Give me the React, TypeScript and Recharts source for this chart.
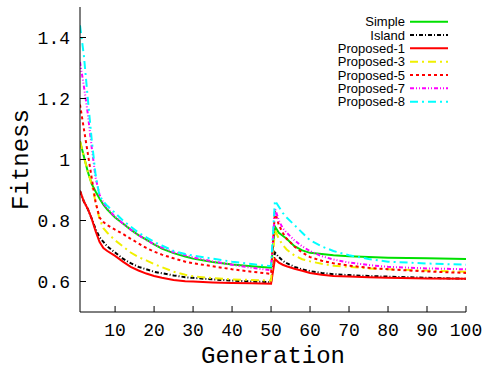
import React from 'react';
import { Label, Legend, Line, LineChart, XAxis, YAxis } from 'recharts';

const GENS = [1, 2, 3, 4, 5, 6, 7, 8, 10, 12, 14, 16, 18, 20, 22, 25, 28, 30, 35, 40, 45, 50, 51, 52, 53, 54, 56, 58, 60, 63, 66, 70, 75, 80, 90, 100];

const SIMPLE = [1.06, 1.01, 0.96, 0.92, 0.895, 0.872, 0.852, 0.836, 0.81, 0.79, 0.77, 0.752, 0.737, 0.722, 0.708, 0.693, 0.682, 0.675, 0.664, 0.656, 0.65, 0.645, 0.78, 0.76, 0.75, 0.74, 0.716, 0.702, 0.694, 0.69, 0.686, 0.683, 0.68, 0.678, 0.676, 0.674];
const ISLAND = [0.897, 0.862, 0.838, 0.806, 0.772, 0.745, 0.73, 0.715, 0.695, 0.675, 0.66, 0.648, 0.64, 0.632, 0.627, 0.62, 0.614, 0.612, 0.607, 0.603, 0.6, 0.598, 0.695, 0.68, 0.668, 0.66, 0.648, 0.64, 0.634, 0.628, 0.624, 0.621, 0.618, 0.616, 0.612, 0.609];
const PROPOSED_1 = [0.897, 0.862, 0.838, 0.806, 0.765, 0.73, 0.71, 0.7, 0.684, 0.665, 0.648, 0.636, 0.626, 0.618, 0.612, 0.605, 0.601, 0.6, 0.597, 0.595, 0.594, 0.593, 0.674, 0.662, 0.655, 0.65, 0.642, 0.635, 0.628, 0.622, 0.618, 0.616, 0.614, 0.612, 0.61, 0.609];
const PROPOSED_3 = [1.06, 1.01, 0.96, 0.92, 0.86, 0.805, 0.775, 0.76, 0.735, 0.715, 0.695, 0.68, 0.669, 0.657, 0.647, 0.632, 0.622, 0.617, 0.611, 0.607, 0.605, 0.603, 0.77, 0.74, 0.72, 0.705, 0.685, 0.673, 0.666, 0.658, 0.652, 0.648, 0.643, 0.64, 0.636, 0.632];
const PROPOSED_5 = [1.18, 1.1, 1.02, 0.94, 0.86, 0.81, 0.795, 0.785, 0.77, 0.756, 0.74, 0.725, 0.71, 0.698, 0.688, 0.676, 0.665, 0.66, 0.65, 0.64, 0.632, 0.625, 0.83, 0.785, 0.76, 0.74, 0.715, 0.695, 0.68, 0.668, 0.66, 0.652, 0.645, 0.64, 0.633, 0.628];
const PROPOSED_7 = [1.32, 1.24, 1.15, 1.04, 0.94, 0.885, 0.858, 0.84, 0.812, 0.79, 0.77, 0.752, 0.736, 0.722, 0.711, 0.696, 0.686, 0.679, 0.666, 0.655, 0.645, 0.637, 0.84, 0.8, 0.775, 0.76, 0.735, 0.715, 0.7, 0.683, 0.672, 0.662, 0.654, 0.648, 0.643, 0.64];
const PROPOSED_8 = [1.44, 1.34, 1.2, 1.065, 0.95, 0.88, 0.862, 0.848, 0.825, 0.8, 0.78, 0.76, 0.745, 0.73, 0.718, 0.7, 0.69, 0.685, 0.675, 0.665, 0.657, 0.65, 0.865, 0.845, 0.825, 0.81, 0.785, 0.76, 0.735, 0.715, 0.7, 0.686, 0.674, 0.665, 0.659, 0.655];

const X_TICKS = [10, 20, 30, 40, 50, 60, 70, 80, 90, 100];
const Y_TICKS = [0.6, 0.8, 1, 1.2, 1.4];

// gnuplot-ish line styles, same order as the key
const SERIES = [
  { key: 'simple', name: 'Simple', values: SIMPLE, stroke: '#00e000', dash: undefined },
  { key: 'island', name: 'Island', values: ISLAND, stroke: '#000000', dash: '4 2 1 2' },
  { key: 'p1', name: 'Proposed-1', values: PROPOSED_1, stroke: '#ff0000', dash: undefined },
  { key: 'p3', name: 'Proposed-3', values: PROPOSED_3, stroke: '#f0f000', dash: '8 4 2 4' },
  { key: 'p5', name: 'Proposed-5', values: PROPOSED_5, stroke: '#ff0000', dash: '3 3' },
  { key: 'p7', name: 'Proposed-7', values: PROPOSED_7, stroke: '#ff00ff', dash: '4 2 1 2 1 2' },
  { key: 'p8', name: 'Proposed-8', values: PROPOSED_8, stroke: '#00ffff', dash: '8 4 2 4' },
];

const data = GENS.map((g, i) => {
  const row: Record<string, number> = { g };
  SERIES.forEach((s) => (row[s.key] = s.values[i]));
  return row;
});

const mono = '"Liberation Mono", "DejaVu Sans Mono", monospace';
const TICK_LEN = 6;

function BottomTick({ x, y, payload }: any) {
  return (
    <g>
      <line x1={x} y1={y} x2={x} y2={y - TICK_LEN} stroke="#000" />
      <text x={x} y={y + 24} textAnchor="middle" fontFamily={mono} fontSize={18} fill="#000">
        {payload.value}
      </text>
    </g>
  );
}

function LeftTick({ x, y, payload }: any) {
  return (
    <g>
      <line x1={x} y1={y} x2={x + TICK_LEN} y2={y} stroke="#000" />
      <text x={x - 10} y={y + 6} textAnchor="end" fontFamily={mono} fontSize={18} fill="#000">
        {payload.value}
      </text>
    </g>
  );
}

const TopTick = ({ x, y }: any) => <line x1={x} y1={y} x2={x} y2={y + TICK_LEN} stroke="#000" />;
const RightTick = ({ x, y }: any) => <line x1={x} y1={y} x2={x - TICK_LEN} y2={y} stroke="#000" />;

function Key() {
  return (
    <svg width={170} height={100} style={{ display: 'block' }}>
      {SERIES.map((s, i) => {
        const cy = 7.7 + i * 13.33;
        return (
          <g key={s.key}>
            <text x={105} y={cy + 4.5} textAnchor="end" fontFamily='"Liberation Sans", Arial, sans-serif' fontSize={13} fill="#000">
              {s.name}
            </text>
            <line x1={110} y1={cy} x2={148} y2={cy} stroke={s.stroke} strokeWidth={2} strokeDasharray={s.dash} />
          </g>
        );
      })}
    </svg>
  );
}

export default function App() {
  return (
    <div style={{ position: 'absolute', left: 0, top: 0, background: '#fff' }}>
      <LineChart width={482} height={370} data={data} margin={{ top: 7, right: 16, bottom: 0, left: 0 }}>
        <XAxis
          dataKey="g"
          type="number"
          domain={[1, 100]}
          ticks={X_TICKS}
          height={58}
          tickSize={0}
          tickMargin={0}
          tickLine={false}
          tick={<BottomTick />}
          axisLine={{ stroke: '#000' }}
          allowDataOverflow
        >
          <Label value="Generation" position="insideBottom" offset={7} fontFamily={mono} fontSize={24} fill="#000" />
        </XAxis>
        <XAxis
          xAxisId="top"
          orientation="top"
          type="number"
          dataKey="g"
          domain={[1, 100]}
          ticks={X_TICKS}
          height={0}
          tickSize={0}
          tickMargin={0}
          tickLine={false}
          tick={<TopTick />}
          axisLine={{ stroke: '#000' }}
          allowDataOverflow
        />
        <YAxis
          type="number"
          domain={[0.5, 1.5]}
          ticks={Y_TICKS}
          width={80}
          tickSize={0}
          tickMargin={0}
          tickLine={false}
          tick={<LeftTick />}
          axisLine={{ stroke: '#000' }}
          allowDataOverflow
        >
          <Label
            content={({ viewBox }: any) => {
              const cx = 28;
              const cy = viewBox.y + viewBox.height / 2;
              return (
                <text x={cx} y={cy} transform={`rotate(-90, ${cx}, ${cy})`} textAnchor="middle" fontFamily={mono} fontSize={24} fill="#000">
                  Fitness
                </text>
              );
            }}
          />
        </YAxis>
        <YAxis
          yAxisId="right"
          orientation="right"
          type="number"
          domain={[0.5, 1.5]}
          ticks={Y_TICKS}
          width={0}
          tickSize={0}
          tickMargin={0}
          tickLine={false}
          tick={<RightTick />}
          axisLine={{ stroke: '#000' }}
          allowDataOverflow
        />
        <Legend
          layout="horizontal"
          verticalAlign="middle"
          align="center"
          content={() => <Key />}
          wrapperStyle={{ top: 14, left: 300, width: 170, height: 100 }}
        />
        {SERIES.map((s) => (
          <Line
            key={s.key}
            dataKey={s.key}
            name={s.name}
            type="linear"
            stroke={s.stroke}
            strokeWidth={2}
            strokeDasharray={s.dash}
            dot={false}
            activeDot={false}
            isAnimationActive={false}
          />
        ))}
      </LineChart>
    </div>
  );
}
